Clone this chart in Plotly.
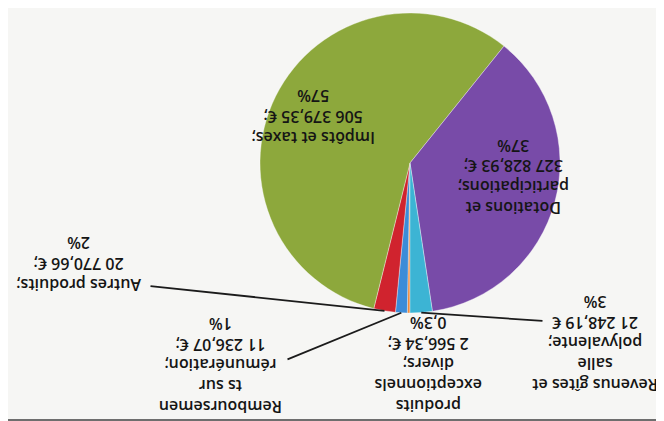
import math
import plotly.graph_objects as go

# ---------------- data ----------------
categories = [
    "produits<br>exceptionnels<br>divers;",
    "Remboursemen<br>ts sur<br>rémunération;",
    "Autres produits;",
    "Impôts et taxes;",
    "Dotations et<br>participations;",
    "Revenus gîtes et<br>salle<br>polyvalente;",
]
values = [2566.34, 11236.07, 20770.66, 506379.35, 327828.93, 21248.19]
pct_labels = ["0,3%", "1%", "2%", "57%", "37%", "3%"]
value_suffix = [";", ";", ";", ";", ";", ""]

# ---------------- style / layout ----------------
colors = ["#F08A3C", "#3C8CD8", "#D0232E", "#8DA83C", "#784BA8", "#3CB4D4"]
W, H = 664, 421
CX, CY, R = 402, 155, 150          # pie centre / radius in pixels
START = 180                          # start angle (deg, clockwise from 12 o'clock)
label_centers = [(420, 357), (212, 358), (71, 256), (305, 109), (506, 169), (587, 336)]
leader_tails = {1: (278, 352), 2: (141, 278), 5: (536, 313)}
FONT = dict(family="'Open Sans', Lato, sans-serif", size=16, color="#151515", weight=600)


def fr_money(v):
    s = f"{v:,.2f}"
    return s.replace(",", " ").replace(".", ",") + " €"


def px2paper(x, y):
    return x / W, 1 - y / H


fig = go.Figure()
fig.add_trace(go.Pie(
    values=values,
    labels=[c.replace("<br>", " ") for c in categories],
    marker=dict(colors=colors, line=dict(color="rgba(255,255,255,0.6)", width=0.6)),
    sort=False,
    direction="clockwise",
    rotation=START,
    textinfo="none",
    hoverinfo="label+value+percent",
    showlegend=False,
    domain=dict(x=[(CX - R) / W, (CX + R) / W], y=[1 - (CY + R) / H, 1 - (CY - R) / H]),
))

total = sum(values)
cum = 0.0
annotations = []
for i, (cat, v, p) in enumerate(zip(categories, values, pct_labels)):
    mid = START + 360 * (cum + v / 2) / total
    cum += v
    text = f"{cat}<br>{fr_money(v)}{value_suffix[i]}<br>{p}"
    lx, ly = px2paper(*label_centers[i])
    annotations.append(dict(
        x=lx, y=ly, xref="paper", yref="paper", text=text, showarrow=False,
        textangle=180, xanchor="center", yanchor="middle", align="center", font=FONT,
    ))
    if i in leader_tails:
        hx = CX + R * math.sin(math.radians(mid))
        hy = CY - R * math.cos(math.radians(mid))
        tx, ty = leader_tails[i]
        ax, ay = px2paper(hx, hy)
        annotations.append(dict(
            x=ax, y=ay, xref="paper", yref="paper", text="", showarrow=True,
            arrowhead=0, arrowwidth=1.8, arrowcolor="#1b1b1b", standoff=0,
            ax=tx - hx, ay=ty - hy, axref="pixel", ayref="pixel",
        ))

fig.update_layout(
    width=W, height=H,
    margin=dict(l=0, r=0, t=0, b=0),
    paper_bgcolor="#f6f6f4",
    plot_bgcolor="#f6f6f4",
    annotations=annotations,
    shapes=[dict(type="rect", xref="paper", yref="paper", x0=0, x1=1, y0=0, y1=10 / H,
                 fillcolor="#6e6e6e", line=dict(width=0), layer="below")],
)

fig.write_html("out.html")
